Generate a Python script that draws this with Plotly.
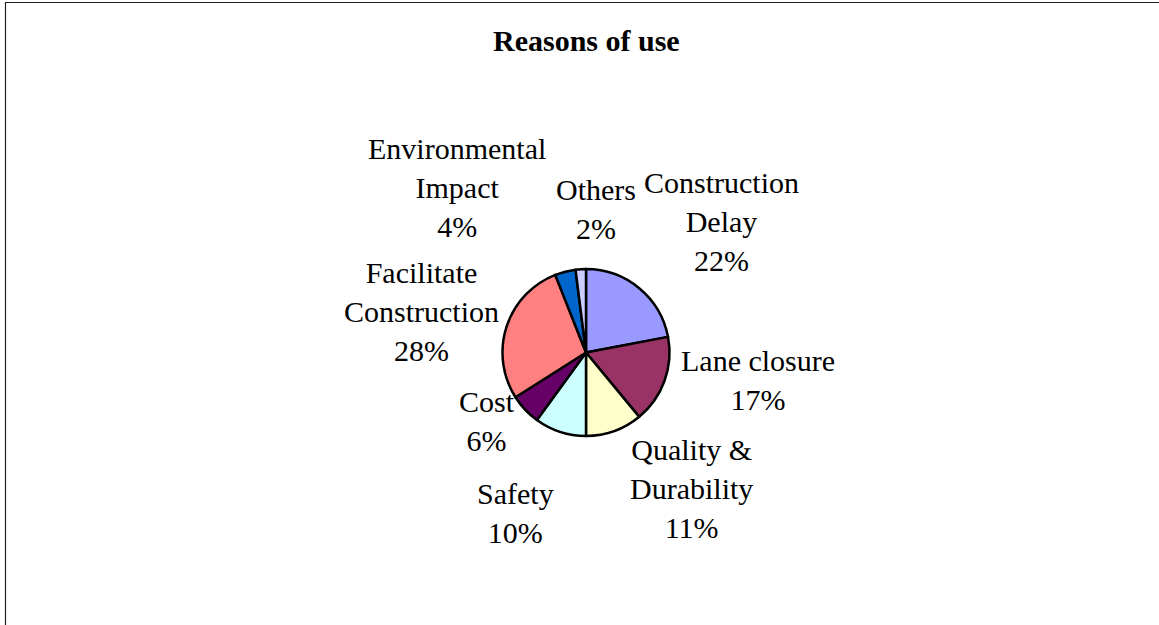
import plotly.graph_objects as go

# ---- data ----
categories = ["Construction Delay", "Lane closure", "Quality & Durability", "Safety",
              "Cost", "Facilitate Construction", "Environmental Impact", "Others"]
values = [22, 17, 11, 10, 6, 28, 4, 2]
label_lines = ["Construction<br>Delay", "Lane closure", "Quality &<br>Durability", "Safety",
               "Cost", "Facilitate<br>Construction", "Environmental<br>Impact", "Others"]
colors = ["#9999FF", "#993366", "#FFFFCC", "#CCFFFF", "#660066", "#FF8080", "#0066CC", "#CCCCFF"]
title_text = "Reasons of use"

# ---- layout (pixel positions of label centres) ----
W, H = 1159, 625
label_pos = [(721, 222), (758, 380), (691, 488), (515, 513),
             (487, 421), (421, 311), (457, 188), (596, 209)]
cx, cy, r = 586, 352.5, 83.5
FONT = "Times New Roman, Liberation Serif, serif"
FS = 30

total = sum(values)
fig = go.Figure(go.Pie(
    labels=categories, values=values, sort=False, direction="clockwise", rotation=0,
    marker=dict(colors=colors, line=dict(color="black", width=2.5)),
    textinfo="none", hoverinfo="skip", showlegend=False,
    domain=dict(x=[(cx - r) / W, (cx + r) / W], y=[1 - (cy + r) / H, 1 - (cy - r) / H]),
))

annotations = []
for txt, v, (px, py) in zip(label_lines, values, label_pos):
    annotations.append(dict(
        text=f"{txt}<br>{round(100 * v / total)}%", x=px / W, y=1 - py / H,
        xref="paper", yref="paper", xanchor="center", yanchor="middle",
        showarrow=False, align="center", font=dict(family=FONT, size=FS, color="black"),
    ))
annotations.append(dict(
    text=f"<b>{title_text}</b>", x=586 / W, y=1 - 40 / H, xref="paper", yref="paper",
    xanchor="center", yanchor="middle", showarrow=False,
    font=dict(family=FONT, size=FS, color="black"),
))

fig.update_layout(
    width=W, height=H, margin=dict(l=0, r=0, t=0, b=0),
    paper_bgcolor="white", plot_bgcolor="white",
    annotations=annotations,
    shapes=[dict(type="rect", xref="paper", yref="paper",
                 x0=5.5 / W, x1=1.05, y0=-0.05, y1=1 - 2.5 / H,
                 line=dict(color="#222222", width=1.2))],
)
fig.write_html("out.html", config={"displayModeBar": False},
               post_script="document.body.style.margin='0';document.body.style.padding='0';")
